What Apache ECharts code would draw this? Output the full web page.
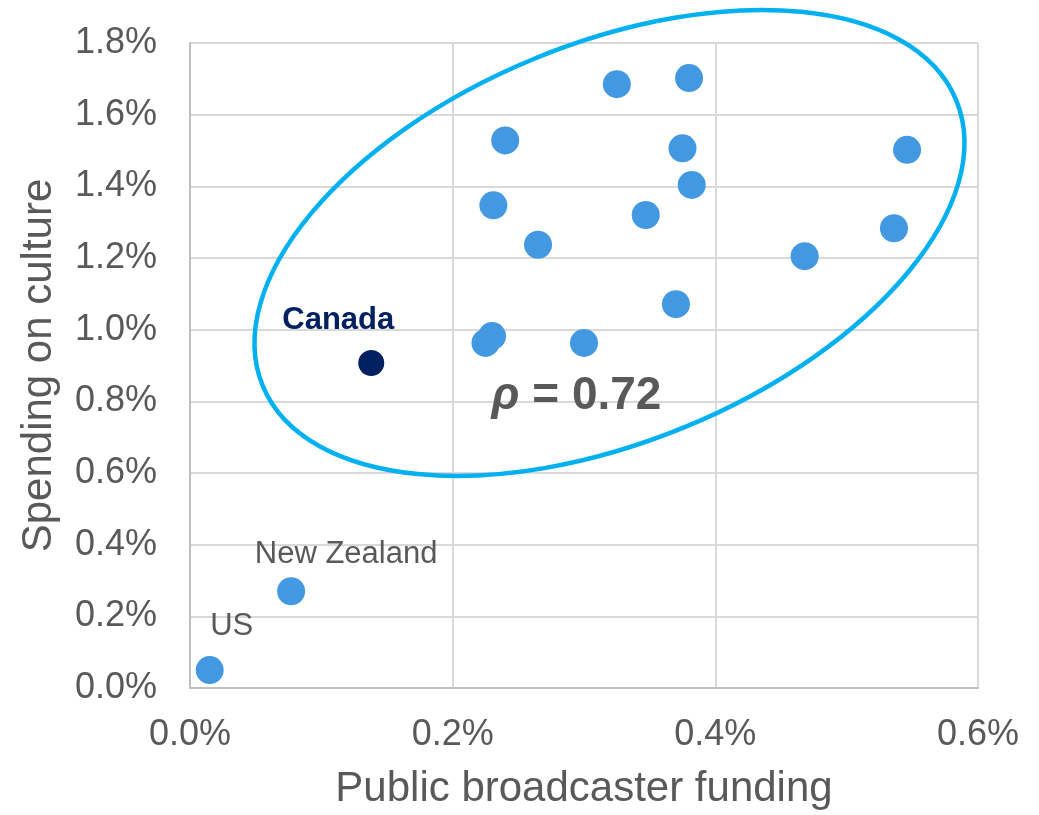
<!DOCTYPE html>
<html>
<head>
<meta charset="utf-8">
<script src="https://cdn.jsdelivr.net/npm/echarts@6/dist/echarts.min.js"></script>
<style>
  html, body { margin: 0; padding: 0; background: #fff; }
  #chart { width: 1039px; height: 815px; }
</style>
</head>
<body>
<div id="chart"></div>
<script>
// country labels (only three are named on the chart)
var countries = ['US', 'New Zealand', 'Canada', '', '', '', '', '', '', '', '', '', '', '', '', '', '', ''];
// public broadcaster funding, % of GDP
var funding = [0.015, 0.077, 0.138, 0.225, 0.230, 0.231, 0.240, 0.265, 0.300, 0.325, 0.347, 0.370, 0.375, 0.380, 0.382, 0.468, 0.536, 0.546];
// spending on culture, % of GDP
var culture = [0.05, 0.27, 0.907, 0.963, 0.982, 1.347, 1.528, 1.237, 0.963, 1.685, 1.320, 1.071, 1.506, 1.702, 1.404, 1.205, 1.283, 1.502];
var xTicks = [0, 0.2, 0.4, 0.6];
var yTicks = [0, 0.2, 0.4, 0.6, 0.8, 1.0, 1.2, 1.4, 1.6, 1.8];
var rho = '0.72';

var grey = '#595959';
var blue = '#4299e2';
var navy = '#002060';

var labelOffsets = {
  'US': [22, -44],
  'New Zealand': [55, -37],
  'Canada': [-33, -43]
};

var pts = funding.map(function (f, i) {
  var name = countries[i];
  var isCanada = name === 'Canada';
  var item = {
    name: name,
    value: [f, culture[i]],
    symbolSize: isCanada ? 26 : 28,
    itemStyle: { color: isCanada ? navy : blue, opacity: 1 }
  };
  if (name) {
    item.label = {
      show: true,
      position: 'inside',
      offset: labelOffsets[name],
      formatter: name,
      fontFamily: 'Liberation Sans, Arial, sans-serif',
      fontSize: 31,
      fontWeight: isCanada ? 'bold' : 'normal',
      color: isCanada ? navy : grey
    };
  }
  return item;
});

var chart = echarts.init(document.getElementById('chart'));

var axisFont = { fontFamily: 'Liberation Sans, Arial, sans-serif', color: grey };

chart.setOption({
  animation: false,
  grid: { left: 190, right: 61, top: 43, bottom: 117 },
  xAxis: {
    type: 'value',
    min: xTicks[0],
    max: xTicks[xTicks.length - 1],
    interval: 0.2,
    name: 'Public broadcaster funding',
    nameLocation: 'middle',
    nameGap: 80,
    nameTextStyle: Object.assign({ fontSize: 42 }, axisFont),
    axisLine: { lineStyle: { color: '#bfbfbf', width: 2 } },
    axisTick: { show: false },
    splitLine: { show: true, lineStyle: { color: '#d9d9d9', width: 2 } },
    axisLabel: Object.assign({
      fontSize: 36,
      margin: 29,
      formatter: function (v) { return v.toFixed(1) + '%'; }
    }, axisFont)
  },
  yAxis: {
    type: 'value',
    min: yTicks[0],
    max: yTicks[yTicks.length - 1],
    interval: 0.2,
    name: 'Spending on culture',
    nameLocation: 'middle',
    nameGap: 130,
    nameTextStyle: Object.assign({ fontSize: 42 }, axisFont),
    axisLine: { show: true, lineStyle: { color: '#bfbfbf', width: 2 } },
    axisTick: { show: false },
    splitLine: { show: true, lineStyle: { color: '#d9d9d9', width: 2 } },
    axisLabel: Object.assign({
      fontSize: 36,
      margin: 33,
      formatter: function (v) { return v.toFixed(1) + '%'; }
    }, axisFont)
  },
  series: [{
    type: 'scatter',
    z: 3,
    data: pts
  }]
});

// ellipse and correlation annotation, anchored in data space
var c = chart.convertToPixel({ gridIndex: 0 }, [0.3194, 1.242]);
var t = chart.convertToPixel({ gridIndex: 0 }, [0.2943, 0.813]);
chart.setOption({
  graphic: [{
    type: 'ellipse',
    x: c[0],
    y: c[1],
    rotation: 22.4 * Math.PI / 180,
    shape: { cx: 0, cy: 0, rx: 375, ry: 199 },
    style: { fill: null, stroke: '#00b0f0', lineWidth: 4.5 },
    z: 1
  }, {
    type: 'text',
    x: t[0],
    y: t[1],
    style: {
      text: '{r|\u03c1} = ' + rho,
      font: 'bold 46px "Liberation Sans", Arial, sans-serif',
      fill: grey,
      align: 'center',
      verticalAlign: 'middle',
      rich: {
        r: {
          fontStyle: 'italic',
          fontWeight: 'bold',
          fontSize: 46,
          fontFamily: 'Liberation Sans, Arial, sans-serif',
          fill: grey,
          color: grey
        }
      }
    },
    z: 5
  }]
});
</script>
</body>
</html>
